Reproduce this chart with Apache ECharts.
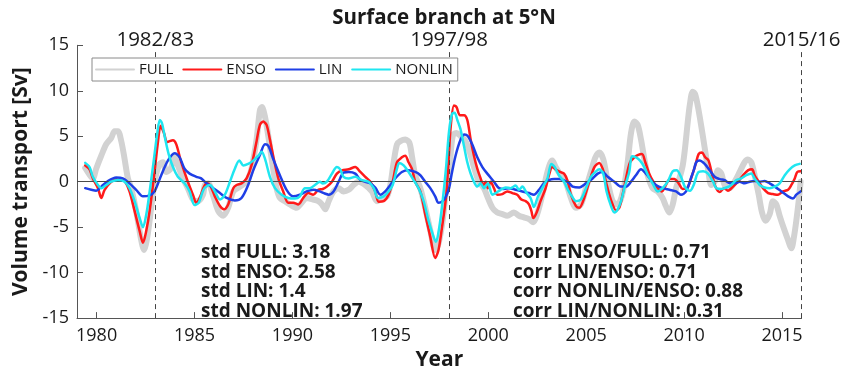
<!DOCTYPE html>
<html>
<head>
<meta charset="utf-8">
<title>Surface branch at 5°N</title>
<script src="https://cdn.jsdelivr.net/npm/echarts@6/dist/echarts.min.js"></script>
<style>
  html, body { margin: 0; padding: 0; background: #ffffff; }
  #chart { width: 846px; height: 376px; }
</style>
</head>
<body>
<div id="chart"></div>
<script>
// Volume transport anomalies [Sv], pairs of [year, value]
const FULL = [
  [1979.42, 1.5], [1979.6, 0.9], [1979.81, 0.36], [1979.98, 1.43], [1980.24, 2.86], [1980.49, 4.11],
  [1980.75, 4.82], [1980.92, 5.54], [1981.09, 5.54], [1981.26, 4.46], [1981.43, 2.5], [1981.6, 0.36],
  [1981.77, -0.71], [1982.02, -3.21], [1982.28, -6.43], [1982.42, -7.5], [1982.59, -6.07], [1982.79, -2.86],
  [1982.99, 0.36], [1983.22, 1.96], [1983.39, 2.14], [1983.56, 1.07], [1983.78, 1.43], [1983.98, 2.68],
  [1984.15, 1.79], [1984.41, 0.36], [1984.66, -0.71], [1984.92, -1.96], [1985.17, -2.14], [1985.43, -1.43],
  [1985.53, -0.36], [1985.7, -0.18], [1985.96, -1.61], [1986.21, -3.21], [1986.47, -3.75], [1986.72, -2.86],
  [1986.98, -1.07], [1987.32, -0.54], [1987.66, 0], [1987.91, 1.43], [1988.17, 4.64], [1988.34, 7.86],
  [1988.44, 8.21], [1988.6, 7.14], [1988.77, 5.0], [1988.99, 1.79], [1989.19, -0.71], [1989.36, -1.79],
  [1989.62, -2.14], [1989.87, -2.5], [1990.21, -2.86], [1990.47, -2.32], [1990.72, -1.79], [1991.06, -1.96],
  [1991.32, -2.14], [1991.51, -2.5], [1991.68, -3.04], [1991.85, -2.14], [1992.1, -1.07], [1992.36, -0.71],
  [1992.61, -1.07], [1992.87, -0.89], [1993.12, -0.36], [1993.38, 0], [1993.72, -0.36], [1994.06, -1.07],
  [1994.32, -2.14], [1994.57, -1.79], [1994.83, -1.61], [1995.0, -0.36], [1995.17, 2.14], [1995.34, 4.11],
  [1995.51, 4.46], [1995.76, 4.64], [1995.97, 4.29], [1996.1, 2.86], [1996.27, 0.71], [1996.53, -0.71],
  [1996.78, -2.86], [1997.04, -5.36], [1997.29, -7.5], [1997.46, -6.79], [1997.67, -4.29], [1997.84, -1.07],
  [1998.04, 1.79], [1998.1, 3.57], [1998.21, 5.18], [1998.38, 5.36], [1998.59, 5.0], [1998.79, 4.64],
  [1999.01, 3.57], [1999.27, 1.61], [1999.52, 0], [1999.78, -0.71], [1999.95, -1.61], [2000.21, -2.86],
  [2000.46, -3.39], [2000.72, -3.57], [2000.97, -3.75], [2001.31, -3.39], [2001.57, -3.75], [2001.82, -3.93],
  [2002.08, -4.11], [2002.3, -4.46], [2002.5, -3.57], [2002.76, -1.43], [2002.98, 0.71], [2003.15, 1.96],
  [2003.27, 2.32], [2003.44, 1.61], [2003.7, 0.71], [2003.95, 0], [2004.22, -1.79], [2004.48, -2.86],
  [2004.73, -2.5], [2004.99, -0.71], [2005.24, 1.07], [2005.47, 2.68], [2005.67, 3.21], [2005.87, 2.5],
  [2006.1, 0], [2006.32, -1.96], [2006.52, -2.5], [2006.73, -2.14], [2006.95, -0.36], [2007.12, 2.14],
  [2007.29, 5.36], [2007.46, 6.61], [2007.63, 6.25], [2007.8, 4.64], [2007.97, 2.5], [2008.14, 0.71],
  [2008.39, -0.71], [2008.65, -1.07], [2008.9, -1.79], [2009.07, -2.68], [2009.25, -3.39], [2009.42, -2.5],
  [2009.59, -0.71], [2009.76, 0.36], [2009.93, 1.79], [2010.06, 3.93], [2010.18, 6.43], [2010.3, 8.57],
  [2010.44, 9.9], [2010.56, 9.64], [2010.71, 8.21], [2010.88, 6.07], [2011.05, 3.75], [2011.22, 1.43],
  [2011.39, -0.36], [2011.56, 0], [2011.73, 1.25], [2011.9, 0.89], [2012.07, -0.36], [2012.33, -0.71],
  [2012.58, 0], [2012.84, 1.07], [2013.09, 2.14], [2013.26, 2.43], [2013.43, 2.14], [2013.6, 0.71],
  [2013.81, -1.43], [2013.98, -3.39], [2014.15, -4.29], [2014.37, -3.57], [2014.54, -2.14], [2014.71, -2.5],
  [2014.88, -3.75], [2015.1, -5.18], [2015.31, -6.43], [2015.48, -7.32], [2015.61, -6.07], [2015.73, -4.29],
  [2015.85, -2.14], [2015.95, 0]
];

const ENSO = [
  [1979.42, 1.79], [1979.64, 1.36], [1979.81, 0.36], [1980.07, -0.71], [1980.24, -1.79], [1980.41, -0.89],
  [1980.75, 0], [1981.09, 0.29], [1981.43, 0.07], [1981.68, -1.07], [1981.94, -3.21], [1982.19, -5.36],
  [1982.37, -6.71], [1982.54, -5.36], [1982.71, -3.21], [1982.96, 1.07], [1983.13, 4.29], [1983.27, 6.14],
  [1983.44, 5.36], [1983.61, 4.36], [1983.9, 4.57], [1984.07, 4.11], [1984.32, 2.14], [1984.66, 0],
  [1984.92, -1.43], [1985.09, -2.32], [1985.3, -1.6], [1985.45, -0.71], [1985.62, -0.18], [1985.79, -0.36],
  [1986.04, -1.61], [1986.3, -2.68], [1986.5, -3.04], [1986.72, -2.5], [1986.98, -0.71], [1987.15, -0.36],
  [1987.4, -0.18], [1987.66, 0.36], [1987.91, 1.79], [1988.17, 4.46], [1988.34, 6.25], [1988.51, 6.61],
  [1988.68, 6.25], [1988.85, 4.64], [1989.05, 2.5], [1989.28, 0.36], [1989.53, -1.07], [1989.79, -2.32],
  [1990.04, -2.32], [1990.3, -2.5], [1990.55, -1.79], [1990.81, -1.25], [1991.06, -1.43], [1991.32, -0.89],
  [1991.55, -0.8], [1991.76, -0.54], [1992.02, 0], [1992.27, 0.89], [1992.53, 1.25], [1992.87, 1.36],
  [1993.21, 1.61], [1993.47, 1.07], [1993.72, 0.54], [1993.98, 0], [1994.23, -1.07], [1994.4, -2.21],
  [1994.66, -2.14], [1994.91, -1.43], [1995.12, 0], [1995.34, 2.14], [1995.59, 2.68], [1995.76, 2.86],
  [1995.93, 2.14], [1996.1, 1.43], [1996.27, 0], [1996.53, -1.07], [1996.78, -3.57], [1997.04, -6.07],
  [1997.29, -8.39], [1997.46, -7.5], [1997.64, -5.0], [1997.84, -1.79], [1997.96, 1.8], [1998.08, 6.0],
  [1998.25, 8.39], [1998.38, 8.21], [1998.55, 7.32], [1998.76, 7.32], [1998.93, 6.79], [1999.1, 4.64],
  [1999.27, 2.86], [1999.44, 1.43], [1999.61, 0.36], [1999.75, -0.36], [1999.87, 0], [1999.98, -0.71],
  [2000.12, 0], [2000.29, -0.71], [2000.46, -1.43], [2000.72, -1.36], [2000.97, -1.07], [2001.23, -1.25],
  [2001.48, -1.43], [2001.69, -1.96], [2001.91, -2.14], [2002.08, -2.5], [2002.2, -3.21], [2002.3, -4.0],
  [2002.47, -3.39], [2002.67, -2.14], [2002.93, -0.71], [2003.1, 0.71], [2003.27, 1.61], [2003.44, 1.36],
  [2003.66, 1.07], [2003.87, 0.89], [2004.05, 0.1], [2004.22, -1.43], [2004.48, -2.68], [2004.65, -2.86],
  [2004.9, -1.79], [2005.16, 0], [2005.42, 1.61], [2005.67, 2.07], [2005.84, 1.43], [2006.01, 0],
  [2006.18, -1.43], [2006.35, -2.5], [2006.52, -3.14], [2006.69, -2.86], [2006.86, -1.43], [2007.03, 0.36],
  [2007.24, 2.14], [2007.46, 2.68], [2007.63, 2.93], [2007.85, 3.04], [2008.02, 2.14], [2008.22, 0.89],
  [2008.43, 0], [2008.65, -0.71], [2008.87, -1.07], [2009.07, -0.36], [2009.28, 0.29], [2009.5, 0.29],
  [2009.72, -0.18], [2009.93, -0.79], [2010.15, -0.71], [2010.33, 0.18], [2010.57, 1.79], [2010.74, 3.04],
  [2010.91, 3.21], [2011.08, 2.68], [2011.25, 2.32], [2011.42, 0.89], [2011.6, -0.54], [2011.82, -1.14],
  [2012.04, -0.71], [2012.24, -1.0], [2012.5, -0.54], [2012.75, 0], [2013.01, 0.71], [2013.26, 1.25],
  [2013.47, 1.36], [2013.6, 0.71], [2013.81, 0], [2014.03, -0.71], [2014.29, -1.25], [2014.54, -1.36],
  [2014.8, -1.43], [2015.05, -1.07], [2015.31, -0.89], [2015.48, -0.36], [2015.65, 0.36], [2015.78, 1.07],
  [2015.95, 1.14]
];

const LIN = [
  [1979.42, -0.71], [1979.73, -0.89], [1979.98, -1.0], [1980.24, -0.54], [1980.58, 0.07], [1981.0, 0.46],
  [1981.34, 0.36], [1981.68, -0.18], [1982.02, -0.89], [1982.37, -1.61], [1982.71, -1.5], [1982.96, -1.07],
  [1983.3, 0.71], [1983.64, 2.32], [1983.98, 3.14], [1984.24, 2.68], [1984.49, 1.43], [1984.75, 0.89],
  [1985.09, 0.54], [1985.34, 0.36], [1985.62, -0.18], [1985.96, -0.71], [1986.3, -1.25], [1986.64, -1.79],
  [1987.06, -2.07], [1987.4, -1.79], [1987.74, -0.36], [1988.0, 1.25], [1988.34, 2.93], [1988.6, 4.11],
  [1988.77, 3.93], [1989.02, 2.5], [1989.36, 0.71], [1989.7, -0.89], [1990.04, -1.61], [1990.38, -1.43],
  [1990.72, -1.07], [1991.06, -0.89], [1991.4, -1.07], [1991.65, -1.3], [1991.85, -1.43], [1992.1, -1.07],
  [1992.36, 0], [1992.61, 1.0], [1992.87, 1.07], [1993.21, 0.89], [1993.47, 0.18], [1993.72, 0],
  [1993.98, -0.18], [1994.23, -0.64], [1994.49, -1.43], [1994.74, -1.07], [1995.0, -0.36], [1995.25, 0.36],
  [1995.59, 1.07], [1995.93, 1.25], [1996.27, 1.07], [1996.53, 0.71], [1996.78, 0], [1997.04, -0.71],
  [1997.29, -1.61], [1997.46, -2.32], [1997.67, -2.14], [1997.84, -1.61], [1998.0, -0.71], [1998.12, 0.71],
  [1998.33, 2.86], [1998.59, 4.64], [1998.79, 5.18], [1998.96, 5.0], [1999.18, 4.11], [1999.44, 2.68],
  [1999.7, 1.61], [1999.95, 0.89], [2000.29, 0], [2000.55, -0.71], [2000.8, -0.79], [2001.06, -0.71],
  [2001.4, -0.89], [2001.74, -1.07], [2002.08, -1.25], [2002.33, -1.43], [2002.59, -0.89], [2002.84, -0.18],
  [2003.1, 0.18], [2003.36, 0.29], [2003.61, 0.29], [2003.87, 0.14], [2004.1, -0.1], [2004.31, -0.54],
  [2004.65, -0.64], [2004.99, -0.18], [2005.33, 0.36], [2005.59, 0.89], [2005.84, 1.07], [2006.1, 0.54],
  [2006.44, 0], [2006.78, -0.54], [2007.03, -0.54], [2007.29, 0], [2007.54, 0.71], [2007.8, 1.36],
  [2008.05, 0.89], [2008.31, 0.18], [2008.56, -0.36], [2008.9, -0.71], [2009.25, -0.89], [2009.59, -1.07],
  [2009.84, -1.43], [2010.1, -1.07], [2010.35, 0.4], [2010.5, 1.3], [2010.62, 2.14], [2010.79, 2.32],
  [2011.05, 1.96], [2011.31, 1.25], [2011.56, 0.54], [2011.82, 0.29], [2012.07, 0.18], [2012.33, -0.18],
  [2012.58, -0.18], [2012.84, 0], [2013.09, -0.18], [2013.35, 0], [2013.6, 0.07], [2013.86, 0],
  [2014.11, 0.07], [2014.37, -0.18], [2014.63, -0.54], [2014.97, -1.07], [2015.31, -1.61], [2015.56, -1.86],
  [2015.73, -1.43], [2015.95, -1.07]
];

const NONLIN = [
  [1979.42, 2.07], [1979.64, 1.61], [1979.81, 0.54], [1980.07, -0.36], [1980.24, -0.71], [1980.49, -0.36],
  [1980.75, 0], [1981.09, 0.18], [1981.43, 0], [1981.68, -0.71], [1981.94, -2.14], [1982.19, -3.93],
  [1982.37, -5.0], [1982.54, -3.57], [1982.71, -1.07], [1982.93, 2.5], [1983.1, 5.36], [1983.23, 6.79],
  [1983.34, 6.43], [1983.51, 4.64], [1983.68, 3.04], [1983.9, 1.61], [1984.15, 0.54], [1984.49, -0.18],
  [1984.75, -1.07], [1985.0, -2.57], [1985.21, -2.32], [1985.4, -1.2], [1985.53, -0.64], [1985.79, -0.36],
  [1986.04, -1.07], [1986.3, -1.96], [1986.55, -1.43], [1986.81, 0], [1987.06, 1.43], [1987.29, 2.32],
  [1987.49, 1.79], [1987.74, 1.96], [1988.0, 2.32], [1988.26, 2.86], [1988.43, 3.29], [1988.6, 2.5],
  [1988.85, 0.54], [1989.11, -0.71], [1989.45, -1.43], [1989.79, -1.79], [1990.13, -1.86], [1990.38, -1.61],
  [1990.64, -0.71], [1990.89, -0.71], [1991.15, -0.36], [1991.4, 0], [1991.55, -0.2], [1991.76, 0],
  [1992.02, 0.89], [1992.27, 1.61], [1992.44, 1.36], [1992.61, 0.54], [1992.87, 0.36], [1993.21, 0.54],
  [1993.55, 0.18], [1993.89, 0], [1994.15, -0.71], [1994.37, -1.79], [1994.66, -1.61], [1994.91, -1.07],
  [1995.12, -0.36], [1995.34, 1.43], [1995.46, 2.07], [1995.68, 1.79], [1995.93, 1.07], [1996.19, 0.18],
  [1996.44, -0.71], [1996.7, -2.14], [1996.95, -4.29], [1997.21, -6.07], [1997.33, -6.61], [1997.5, -5.0],
  [1997.67, -2.14], [1997.84, 1.43], [1998.0, 5.6], [1998.16, 7.5], [1998.28, 7.57], [1998.42, 6.79],
  [1998.59, 5.71], [1998.76, 3.93], [1998.93, 2.14], [1999.1, 0.89], [1999.27, 0], [1999.44, -0.54],
  [1999.61, -0.18], [1999.78, -0.71], [1999.98, -0.18], [2000.21, -1.43], [2000.38, -1.25], [2000.63, -0.89],
  [2000.89, -0.64], [2001.14, -0.71], [2001.4, -0.43], [2001.57, -0.89], [2001.74, -0.54], [2001.96, -1.25],
  [2002.16, -1.79], [2002.33, -2.79], [2002.54, -1.61], [2002.76, -0.71], [2003.02, 0.36], [2003.22, 1.96],
  [2003.39, 1.61], [2003.61, 0.71], [2003.87, 0], [2004.07, -0.89], [2004.27, -1.61], [2004.48, -2.14],
  [2004.73, -1.96], [2004.99, -0.71], [2005.24, 0.54], [2005.5, 1.14], [2005.67, 1.36], [2005.87, 0.89],
  [2006.04, -1.07], [2006.27, -2.68], [2006.44, -3.39], [2006.61, -3.04], [2006.78, -2.14], [2006.95, -0.71],
  [2007.2, 1.07], [2007.34, 2.79], [2007.54, 2.68], [2007.75, 2.32], [2007.97, 1.61], [2008.19, 0.54],
  [2008.39, -0.18], [2008.65, -1.07], [2008.9, -0.71], [2009.16, 0], [2009.42, 1.14], [2009.62, 1.25],
  [2009.84, 0.54], [2010.06, -0.64], [2010.3, -1.0], [2010.5, -0.3], [2010.71, 1.0], [2010.97, 1.14],
  [2011.22, 0.89], [2011.48, 0], [2011.65, -0.71], [2011.9, -0.79], [2012.16, -0.64], [2012.41, -0.36],
  [2012.67, 0.18], [2012.92, 0.36], [2013.18, 0.71], [2013.43, 0.89], [2013.6, 0.36], [2013.86, -0.36],
  [2014.11, -0.64], [2014.37, -0.71], [2014.63, -0.54], [2014.88, -0.18], [2015.14, 0.71], [2015.39, 1.36],
  [2015.65, 1.79], [2015.9, 1.96]
];

const seriesNames = ['FULL', 'ENSO', 'LIN', 'NONLIN'];
const seriesData = [FULL, ENSO, LIN, NONLIN];
const xTicks = [1980, 1985, 1990, 1995, 2000, 2005, 2010, 2015];
const yTicks = [-15, -10, -5, 0, 5, 10, 15];
const eventYears = [1983, 1998, 2016];
const eventLabels = ['1982/83', '1997/98', '2015/16'];
const stdLines = ['std FULL: 3.18', 'std ENSO: 2.58', 'std LIN: 1.4', 'std NONLIN: 1.97'];
const corrLines = ['corr ENSO/FULL: 0.71', 'corr LIN/ENSO: 0.71', 'corr NONLIN/ENSO: 0.88', 'corr LIN/NONLIN: 0.31'];

// styling
const FONT = '"Open Sans", "Liberation Sans", sans-serif';
const TEXT = '#1a1a1a';
const AXIS = '#555555';
const colors = ['#d2d2d2', '#ff1a1a', '#1f3fe6', '#1fe6f0'];
const widths = [6, 2.5, 2.5, 2.5];

const chart = echarts.init(document.getElementById('chart'), null, { renderer: 'canvas' });

const yMin = yTicks[0], yMax = yTicks[yTicks.length - 1];

// dashed event markers, stopped just below the top so the labels sit on the frame
const eventMarks = eventYears.map((yr, i) => ([
  { coord: [yr, yMin], label: { formatter: eventLabels[i] } },
  { coord: [yr, yMax - 0.75] }
]));

const series = seriesNames.map((name, i) => {
  const s = {
    name: name,
    type: 'line',
    data: seriesData[i],
    showSymbol: false,
    symbol: 'none',
    smooth: 0.3,
    lineStyle: { color: colors[i], width: widths[i], cap: 'round', join: 'round' },
    itemStyle: { color: colors[i] },
    z: 2 + i
  };
  if (i === 0) {
    s.markLine = {
      silent: true,
      symbol: ['none', 'none'],
      animation: false,
      data: [
        { yAxis: 0, lineStyle: { type: 'solid', color: '#4a4a4a', width: 1 }, label: { show: false } },
        ...eventMarks
      ],
      lineStyle: { type: [5, 4], color: '#444444', width: 1 },
      label: {
        show: true, position: 'end', distance: 1,
        fontFamily: FONT, fontSize: 20.5, color: TEXT
      }
    };
  }
  return s;
});

const option = {
  animation: false,
  backgroundColor: '#ffffff',
  title: {
    text: 'Surface branch at 5°N',
    left: 439, top: 3, textAlign: 'center',
    textStyle: { fontFamily: FONT, fontSize: 20.5, fontWeight: 'bold', color: TEXT }
  },
  legend: {
    data: seriesNames,
    left: 92, top: 58,
    orient: 'horizontal',
    itemWidth: 38, itemHeight: 14, itemGap: 9,
    padding: [4, 5, 4, 3],
    borderColor: '#8a8a8a', borderWidth: 1,
    backgroundColor: '#ffffff',
    itemStyle: { opacity: 0, borderWidth: 0 },
    textStyle: { fontFamily: FONT, fontSize: 15, color: TEXT },
    z: 10
  },
  grid: { left: 77, right: 44.4, top: 45.3, bottom: 50.7, containLabel: false },
  xAxis: {
    type: 'value', min: 1979, max: 2016,
    name: 'Year', nameLocation: 'middle', nameGap: 25,
    nameTextStyle: { fontFamily: FONT, fontSize: 21, fontWeight: 'bold', color: TEXT },
    axisLine: { show: true, onZero: false, lineStyle: { color: AXIS, width: 1 } },
    axisTick: { show: true, inside: true, length: 6, customValues: xTicks, lineStyle: { color: AXIS } },
    axisLabel: {
      customValues: xTicks, margin: 9, fontFamily: FONT, fontSize: 18, color: TEXT,
      formatter: (v) => String(v)
    },
    splitLine: { show: false }
  },
  yAxis: {
    type: 'value', min: yMin, max: yMax, interval: 5,
    name: 'Volume transport [Sv]', nameLocation: 'middle', nameGap: 44,
    nameTextStyle: { fontFamily: FONT, fontSize: 21, fontWeight: 'bold', color: TEXT },
    axisLine: { show: true, onZero: false, lineStyle: { color: AXIS, width: 1 } },
    axisTick: { show: true, inside: true, length: 6, lineStyle: { color: AXIS } },
    axisLabel: { margin: 8, fontFamily: FONT, fontSize: 18, color: TEXT },
    splitLine: { show: false }
  },
  series: series,
  graphic: [
    {
      type: 'text', left: 201, top: 243, z: 20,
      style: { text: stdLines.join('\n'), font: 'bold 19px ' + FONT, fill: TEXT, lineHeight: 19.6 }
    },
    {
      type: 'text', left: 513, top: 243, z: 20,
      style: { text: corrLines.join('\n'), font: 'bold 19px ' + FONT, fill: TEXT, lineHeight: 19.6 }
    }
  ]
};

chart.setOption(option);
</script>
</body>
</html>
